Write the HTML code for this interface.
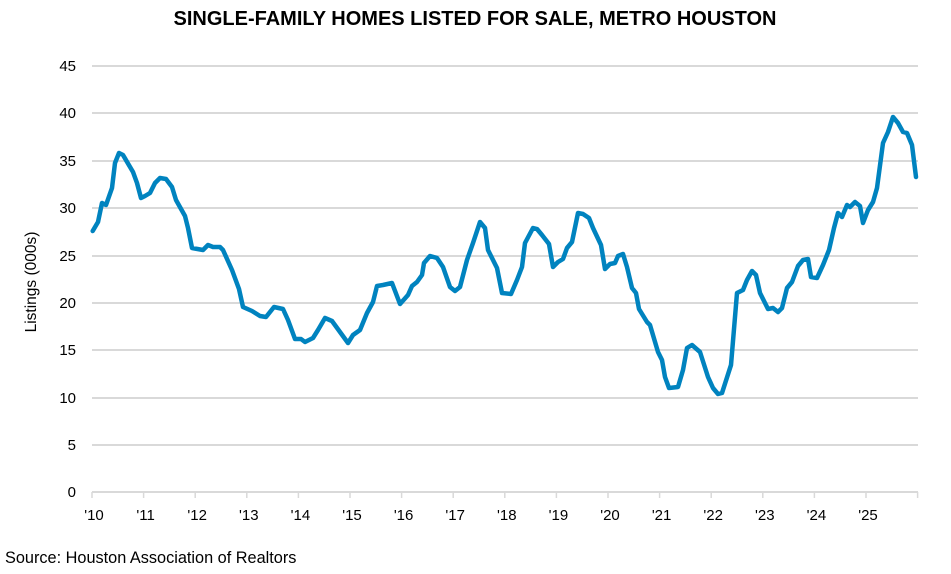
<!DOCTYPE html>
<html><head><style>
body{margin:0;background:#fff;}
svg{display:block;font-family:"Liberation Sans",sans-serif;}
</style></head><body>
<svg width="951" height="574" viewBox="0 0 951 574">
<rect width="951" height="574" fill="#fff"/>
<text x="475" y="25" text-anchor="middle" font-size="20" font-weight="bold" fill="#000">SINGLE-FAMILY HOMES LISTED FOR SALE, METRO HOUSTON</text>
<g stroke="#d9d9d9" stroke-width="2">
<line x1="92" y1="66" x2="918" y2="66"/><line x1="92" y1="113" x2="918" y2="113"/>
<line x1="92" y1="161" x2="918" y2="161"/><line x1="92" y1="208" x2="918" y2="208"/>
<line x1="92" y1="256" x2="918" y2="256"/><line x1="92" y1="303" x2="918" y2="303"/>
<line x1="92" y1="350" x2="918" y2="350"/><line x1="92" y1="398" x2="918" y2="398"/>
<line x1="92" y1="445" x2="918" y2="445"/><line x1="92" y1="492" x2="918" y2="492"/>
</g>
<g stroke="#d9d9d9" stroke-width="1.5">
<line x1="92" y1="492" x2="92" y2="498"/><line x1="143.6" y1="492" x2="143.6" y2="498"/><line x1="195.2" y1="492" x2="195.2" y2="498"/><line x1="246.8" y1="492" x2="246.8" y2="498"/><line x1="298.4" y1="492" x2="298.4" y2="498"/><line x1="350" y1="492" x2="350" y2="498"/><line x1="401.6" y1="492" x2="401.6" y2="498"/><line x1="453.2" y1="492" x2="453.2" y2="498"/><line x1="504.8" y1="492" x2="504.8" y2="498"/><line x1="556.4" y1="492" x2="556.4" y2="498"/><line x1="608" y1="492" x2="608" y2="498"/><line x1="659.6" y1="492" x2="659.6" y2="498"/><line x1="711.2" y1="492" x2="711.2" y2="498"/><line x1="762.8" y1="492" x2="762.8" y2="498"/><line x1="814.4" y1="492" x2="814.4" y2="498"/><line x1="866" y1="492" x2="866" y2="498"/><line x1="917.6" y1="492" x2="917.6" y2="498"/>
</g>
<g font-size="15" fill="#000" text-anchor="end">
<text x="76" y="71">45</text><text x="76" y="118">40</text><text x="76" y="166">35</text><text x="76" y="213">30</text><text x="76" y="261">25</text><text x="76" y="308">20</text><text x="76" y="355">15</text><text x="76" y="403">10</text><text x="76" y="450">5</text><text x="76" y="497">0</text>
</g>
<g font-size="15" fill="#000" text-anchor="middle">
<text x="94" y="520">'10</text><text x="145.6" y="520">'11</text><text x="197.2" y="520">'12</text><text x="248.8" y="520">'13</text><text x="300.4" y="520">'14</text><text x="352" y="520">'15</text><text x="403.6" y="520">'16</text><text x="455.2" y="520">'17</text><text x="506.8" y="520">'18</text><text x="558.4" y="520">'19</text><text x="610" y="520">'20</text><text x="661.6" y="520">'21</text><text x="713.2" y="520">'22</text><text x="764.8" y="520">'23</text><text x="816.4" y="520">'24</text><text x="868" y="520">'25</text>
</g>
<text transform="translate(36,282) rotate(-90)" text-anchor="middle" font-size="15.5" fill="#000">Listings (000s)</text>
<text x="5" y="563" font-size="16.3" fill="#000">Source: Houston Association of Realtors</text>
<polyline fill="none" stroke="#0083BF" stroke-width="4.5" stroke-linejoin="round" stroke-linecap="round" points="
92.7,231 98,222 102,203 106,205 112,188 115,163 119,153 123,155 133,172 137,183 141,198 145,196 150,193 155,183 160,178 166,179 172,187 176,200 185,216 188,228 192,248 203,250 208,245 213,247 220,247 223,250 232,270 239,289 243,307 252,311 260,316 266,317 274,307 283,309 288,320 295,339 301,339 305,342 313,338 318,330 325,318 332,321 340,332 348,343 353,335 360,330 367,313 373,302 377,286 383,285 392,283 400,304 408,295 412,286 417,282 422,275 424,263 430,256 437,258 443,267 450,287 455,291 460,287 467,260 473,243 480,222 485,228 488,250 497,268 502,293 511,294 517,280 522,267 525,243 533,228 537,229 542,235 549,244 553,267 558,262 563,259 567,248 572,242 578,213 583,214 589,218 593,228 601,245 605,269 610,264 615,263 618,256 623,254 627,267 632,288 636,293 639,309 647,322 650,325 658,352 662,360 665,377 669,388 678,387 683,370 687,348 692,345 700,352 708,377 713,388 718,394 722,393 731,365 737,293 743,290 747,280 752,271 756,275 760,293 768,309 773,308 778,312 782,308 787,288 792,282 798,266 803,260 808,259 811,277 817,278 823,265 829,250 834,228 838,213 842,217 847,205 850,207 855,202 860,206 863,223 868,210 873,202 877,188 883,143 888,132 893,117 898,123 903,132 907,133 912,145 916,177"/>
</svg>
</body></html>
